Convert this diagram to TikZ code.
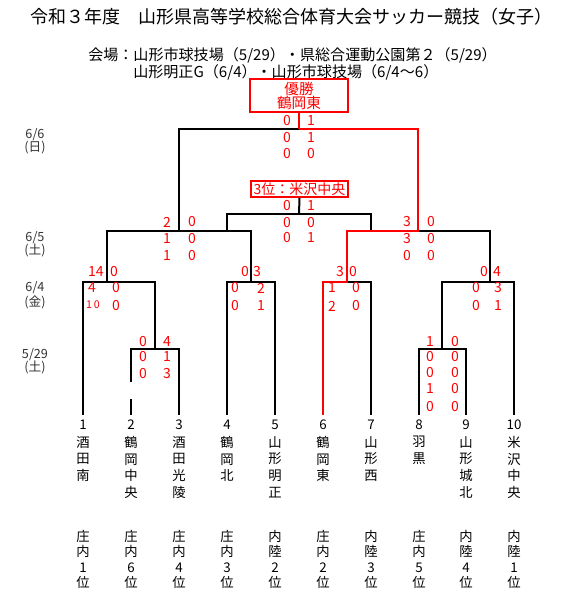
\documentclass[tikz,border=0pt]{standalone}
\usepackage{fontspec}
\setmainfont{Noto Sans CJK JP}

\begin{document}
\begin{tikzpicture}[
    x=0.75pt, y=-0.75pt,
    line/.style={line width=1.5pt, draw=black},
    winline/.style={line width=1.5pt, draw=red},
    score/.style={text=red, font=\fontsize{10.5}{12}\selectfont, inner sep=0pt},
    tiny/.style={text=red, font=\fontsize{8}{9}\selectfont, inner sep=0pt},
    result/.style={draw=red, line width=1.5pt, text=red, inner sep=0pt, align=center},
    date/.style={font=\fontsize{9.5}{11.5}\selectfont, text=black!80, inner sep=0pt},
    team/.style={font=\fontsize{10}{12.5}\selectfont, inner sep=0pt, align=center},
]
\useasboundingbox (0,0) rectangle (561,599);

% heading
\node[font=\fontsize{13.5}{16}\selectfont, inner sep=0pt] (title) at (291,17)
    {令和３年度　山形県高等学校総合体育大会サッカー競技（女子）};
\node[anchor=west, font=\fontsize{11.3}{14}\selectfont, inner sep=0pt] (venue1) at (88,55)
    {会場：山形市球技場（5/29）・県総合運動公園第２（5/29）};
\node[anchor=west, font=\fontsize{11.3}{14}\selectfont, inner sep=0pt] (venue2) at (133,72)
    {山形明正G（6/4）・山形市球技場（6/4〜6）};

% dates
\node[date] (d66)  at (35,135) {6/6};
\node[date] (d66w) at (35,148) {(日)};
\node[date] (d65)  at (35,238) {6/5};
\node[date] (d65w) at (35,250) {(土)};
\node[date] (d64)  at (35,288) {6/4};
\node[date] (d64w) at (35,302) {(金)};
\node[date] (d529) at (35,355) {5/29};
\node[date] (d529w) at (35,367) {(土)};

% result boxes
\node[result, minimum width=72.8pt, minimum height=24.8pt, font=\fontsize{11}{10.5}\selectfont]
    (champ) at (299,95.5) {優勝\\鶴岡東};
\node[result, minimum width=72.8pt, minimum height=12pt, font=\fontsize{10.5}{12}\selectfont]
    (third) at (299.5,189) {3位：米沢中央};

% leaf ends
\foreach \i/\x in {1/83,2/131,3/179,4/227,5/275,6/323,7/371,8/419,9/466,10/514}
    \coordinate (b\i) at (\x,415);

% junctions
\coordinate (m23) at (155,349);
\coordinate (m89) at (442,349);
\coordinate (qA)  at (107,282);
\coordinate (qB)  at (251,282);
\coordinate (qC)  at (347,282);
\coordinate (qD)  at (490,282);
\coordinate (sL)  at (179,231);
\coordinate (sR)  at (418,231);
\coordinate (fin) at (299,129);
\coordinate (thr) at (299,214);
\coordinate (sLx) at (227,231);
\coordinate (sRx) at (371,231);
\coordinate (gapT) at (131,382);
\coordinate (gapB) at (131,399);

% bracket
\draw[line] (gapT) |- (m23) -| (b3);
\draw[line] (gapB) -- (b2);
\draw[line] (b8) |- (m89) -| (b9);
\draw[line] (b1) |- (qA) -| (m23);
\draw[line] (b4) |- (qB) -| (b5);
\draw[line] (qC) -| (b7);
\draw[line] (m89) |- (qD) -| (b10);
\draw[line] (qA) |- (sL) -| (qB);
\draw[line] (sR) -| (qD);
\draw[line] (sL) |- (fin);
\draw[line] (sLx) |- (thr) -| (sRx);
\draw[line] (third.south) -- (thr);

% winner path
\draw[winline] (b6) |- (qC) |- (sR) |- (fin);
\draw[winline] (champ.south) -- (fin);

% scores
\foreach \y/\l/\r [count=\k] in {121/0/1,138/0/1,154/0/0} {
    \node[score] (finL\k) at (287,\y) {\l};
    \node[score] (finR\k) at (311,\y) {\r};
}
\foreach \y/\l/\r [count=\k] in {206/0/1,223/0/0,238/0/1} {
    \node[score] (thrL\k) at (287,\y) {\l};
    \node[score] (thrR\k) at (311,\y) {\r};
}
\foreach \y/\l/\r [count=\k] in {222/2/0,239/1/0,256/1/0} {
    \node[score] (sLL\k) at (167,\y) {\l};
    \node[score] (sLR\k) at (192,\y) {\r};
}
\foreach \y/\l/\r [count=\k] in {222/3/0,239/3/0,256/0/0} {
    \node[score] (sRL\k) at (407,\y) {\l};
    \node[score] (sRR\k) at (431,\y) {\r};
}
\foreach \y/\l/\r [count=\k] in {342/0/4,357/0/1,374/0/3} {
    \node[score] (m23L\k) at (143,\y) {\l};
    \node[score] (m23R\k) at (167,\y) {\r};
}
\foreach \y/\l/\r [count=\k] in {342/1/0,357/0/0,373/0/0,389/1/0,407/0/0} {
    \node[score] (m89L\k) at (430,\y) {\l};
    \node[score] (m89R\k) at (455,\y) {\r};
}
% 6/4
\node[score, anchor=east] (qAL1) at (104,272) {14};
\node[score] (qAR1) at (114,272) {0};
\node[score] (qAL2) at (92,288) {4};
\node[score] (qAR2) at (116,288) {0};
\node[tiny]  (qAL3) at (93,305) {1\,0};
\node[score] (qAR3) at (116,306) {0};
\node[score] (qBL1) at (245,272) {0};
\node[score] (qBR1) at (257,272) {3};
\node[score] (qBL2) at (235,288) {0};
\node[score] (qBR2) at (261,288) {2};
\node[score] (qBL3) at (235,306) {0};
\node[score] (qBR3) at (261,306) {1};
\node[score] (qCL1) at (340,272) {3};
\node[score] (qCR1) at (353,272) {0};
\node[score] (qCL2) at (332,288) {1};
\node[score] (qCR2) at (356,288) {0};
\node[score] (qCL3) at (332,306) {2};
\node[score] (qCR3) at (356,306) {0};
\node[score] (qDL1) at (484,272) {0};
\node[score] (qDR1) at (497,272) {4};
\node[score] (qDL2) at (476,288) {0};
\node[score] (qDR2) at (498,288) {3};
\node[score] (qDL3) at (476,306) {0};
\node[score] (qDR3) at (498,306) {1};

% teams
\foreach \i/\x/\name/\rank in {
    1/83/{酒\\田\\南}/{庄\\内\\1\\位},
    2/131/{鶴\\岡\\中\\央}/{庄\\内\\6\\位},
    3/179/{酒\\田\\光\\陵}/{庄\\内\\4\\位},
    4/227/{鶴\\岡\\北}/{庄\\内\\3\\位},
    5/275/{山\\形\\明\\正}/{内\\陸\\2\\位},
    6/323/{鶴\\岡\\東}/{庄\\内\\2\\位},
    7/371/{山\\形\\西}/{内\\陸\\3\\位},
    8/419/{羽\\黒}/{庄\\内\\5\\位},
    9/466/{山\\形\\城\\北}/{内\\陸\\4\\位},
    10/514/{米\\沢\\中\\央}/{内\\陸\\1\\位}} {
    \node[team] (num\i) at (\x,425) {\i};
    \node[team, anchor=north] (name\i) at (\x,436) {\name};
    \node[team, anchor=north, font=\fontsize{10}{11.5}\selectfont] (rank\i) at (\x,530) {\rank};
}

\end{tikzpicture}
\end{document}
